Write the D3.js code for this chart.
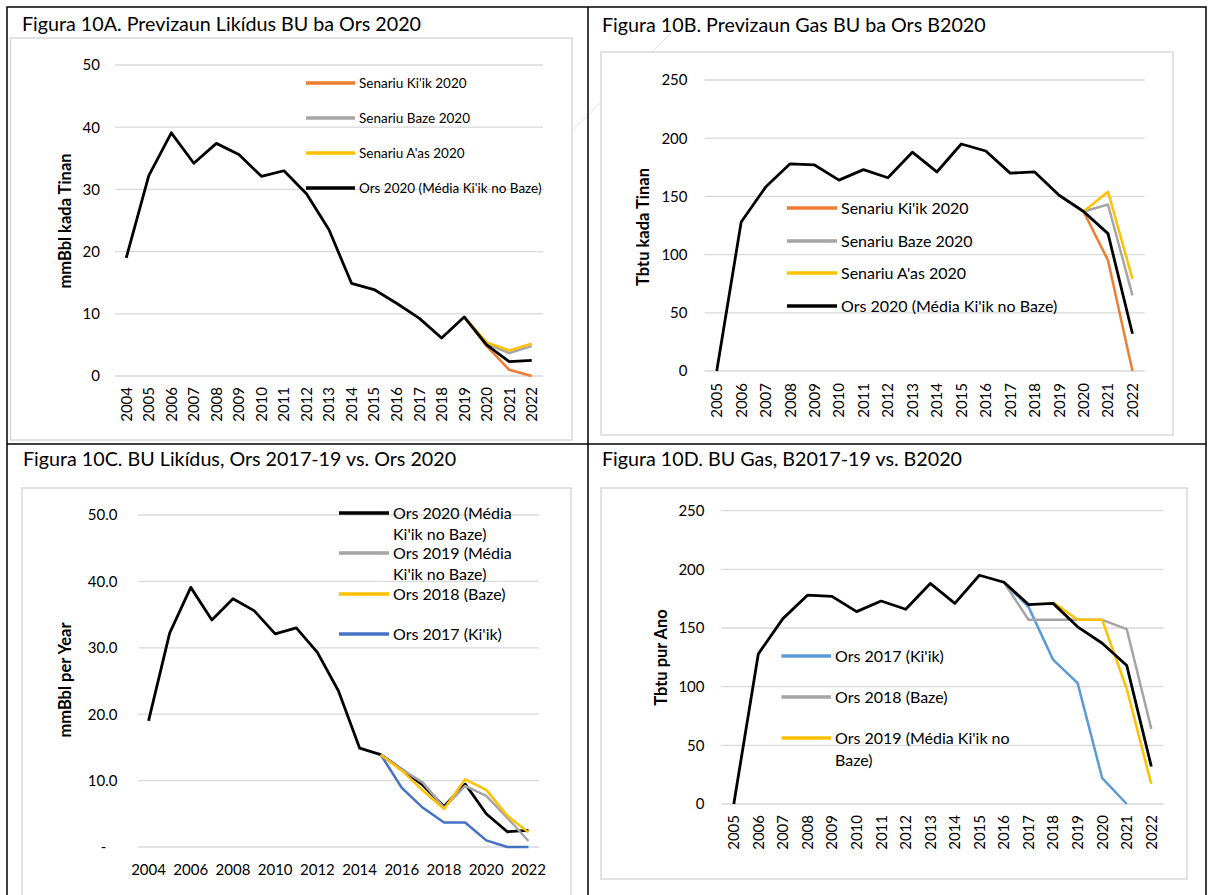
<!DOCTYPE html>
<html>
<head>
<meta charset="utf-8">
<script src="https://cdn.jsdelivr.net/npm/d3@7"></script>
<style>
  body { margin: 0; background: #fff; }
  svg { display: block; font-family: Lato, "Open Sans", sans-serif; }
</style>
</head>
<body>
<div id="chart"></div>
<script>
// categories
const yearsLiq = [2004, 2005, 2006, 2007, 2008, 2009, 2010, 2011, 2012, 2013, 2014, 2015, 2016, 2017, 2018, 2019, 2020, 2021, 2022]
const yearsGas = [2005, 2006, 2007, 2008, 2009, 2010, 2011, 2012, 2013, 2014, 2015, 2016, 2017, 2018, 2019, 2020, 2021, 2022]

// 10A - liquids, scenarios 2020 (mmBbl)
const liqOrs2020 = [19.0, 32.2, 39.1, 34.2, 37.4, 35.6, 32.1, 33.0, 29.3, 23.5, 14.9, 13.9, 11.7, 9.3, 6.1, 9.5, 5.0, 2.3, 2.5]
const liqScenYears = [2019, 2020, 2021, 2022]
const liqKiik2020 = [9.5, 4.8, 1.0, 0.0]
const liqBaze2020 = [9.5, 5.2, 3.7, 4.8]
const liqAas2020 = [9.5, 5.4, 4.1, 5.2]

// 10B - gas, scenarios 2020 (Tbtu)
const gasOrs2020 = [0, 128, 158, 178, 177, 164, 173, 166, 188, 171, 195, 189, 170, 171, 151, 137, 118, 32]
const gasScenYears = [2020, 2021, 2022]
const gasKiik2020 = [137, 95, 0]
const gasBaze2020 = [137, 143, 65]
const gasAas2020 = [137, 154, 79]

// 10C - liquids, budgets 2017-19 vs 2020
const liqOldYears = [2015, 2016, 2017, 2018, 2019, 2020, 2021, 2022]
const liqOrs2019 = [13.9, 11.7, 9.7, 5.9, 9.2, 7.7, 4.4, 0.9]
const liqOrs2018 = [13.9, 11.5, 8.5, 5.7, 10.2, 8.6, 4.7, 2.2]
const liqOrs2017 = [13.9, 8.9, 5.9, 3.7, 3.7, 1.0, 0.0, 0.0]

// 10D - gas, budgets 2017-19 vs 2020
const gasOrs2017Years = [2016, 2017, 2018, 2019, 2020, 2021]
const gasOrs2017 = [189, 168, 123, 103, 22, 0]
const gasOrs2018Years = [2016, 2017, 2018, 2019, 2020, 2021, 2022]
const gasOrs2018 = [189, 157, 157, 157, 157, 149, 64]
const gasOrs2019Years = [2018, 2019, 2020, 2021, 2022]
const gasOrs2019 = [172, 157, 157, 98, 17]

// tick labels
const ticksLiq = [0, 10, 20, 30, 40, 50]
const ticksGas = [0, 50, 100, 150, 200, 250]
const xLabelsC = [2004, 2006, 2008, 2010, 2012, 2014, 2016, 2018, 2020, 2022]

const C_ORANGE = '#ed7d31', C_GRAY = '#a5a5a5', C_YELLOW = '#ffc000', C_BLACK = '#000000'
const C_BLUE_DARK = '#4472c4', C_BLUE_LIGHT = '#5b9bd5'

const zip = (xs, ys) => xs.map((x, i) => ({ x: x, y: ys[i] }))

const svg = d3.select('#chart').append('svg')
    .attr('width', 1209)
    .attr('height', 895)

// faint diagonal from the source document
svg.append('line')
    .attr('x1', 548).attr('y1', 155).attr('x2', 672).attr('y2', 32)
    .style('stroke', '#e4e4e4').style('stroke-width', 1)

function drawPanel(p) {
    let g = svg.append('g')

    // inner chart box
    g.append('rect')
        .attr('x', p.box[0]).attr('y', p.box[1])
        .attr('width', p.box[2] - p.box[0]).attr('height', p.box[3] - p.box[1])
        .style('fill', '#fff').style('stroke', '#d9d9d9').style('stroke-width', 1.5)

    g.append('text')
        .attr('x', p.title[0]).attr('y', p.title[1])
        .style('font-size', '19.7px').style('fill', '#000')
        .text(p.titleText)

    let x = d3.scalePoint().domain(p.years).range(p.xRange).padding(0.5)
    let y = d3.scaleLinear().domain(p.yDomain).range(p.yRange)

    // gridlines
    g.selectAll('.grid').data(p.yTicks).enter().append('line')
        .attr('x1', p.xRange[0]).attr('x2', p.xRange[1])
        .attr('y1', d => y(d)).attr('y2', d => y(d))
        .style('stroke', '#d9d9d9').style('stroke-width', 1.3)

    // y labels
    g.selectAll('.ylab').data(p.yTicks).enter().append('text')
        .attr('x', p.yLabelX).attr('y', d => y(d))
        .attr('dy', '0.36em')
        .attr('text-anchor', 'end')
        .style('font-size', '15px')
        .text(p.yFormat)

    // x labels
    if (p.rotate) {
        g.selectAll('.xlab').data(p.years).enter().append('text')
            .attr('transform', d => `translate(${x(d)},${p.xLabelY}) rotate(-90)`)
            .attr('dy', '0.36em')
            .attr('text-anchor', 'end')
            .style('font-size', '15px')
            .text(d => d)
    } else {
        g.selectAll('.xlab').data(p.xLabels).enter().append('text')
            .attr('x', d => x(d)).attr('y', p.xLabelY)
            .attr('dy', '0.36em')
            .attr('text-anchor', 'middle')
            .style('font-size', '15px')
            .text(d => d)
    }

    // y axis title
    g.append('text')
        .attr('transform', `translate(${p.yTitle[0]},${p.yTitle[1]}) rotate(-90)`)
        .attr('dy', '0.36em')
        .attr('text-anchor', 'middle')
        .style('font-size', '16.5px').style('font-weight', 'bold')
        .text(p.yTitleText)

    let line = d3.line().x(d => x(d.x)).y(d => y(d.y))

    p.series.forEach(s => {
        g.append('path')
            .datum(zip(s.years, s.values))
            .attr('d', line)
            .style('fill', 'none')
            .style('stroke', s.color)
            .style('stroke-width', s.width || 2.5)
            .style('stroke-linejoin', 'round')
    })

    // legend
    p.legend.forEach(l => {
        g.append('line')
            .attr('x1', p.legendLine[0]).attr('x2', p.legendLine[1])
            .attr('y1', l.rows[0]).attr('y2', l.rows[0])
            .style('stroke', l.color).style('stroke-width', 3.5)
        l.text.forEach((t, i) => {
            g.append('text')
                .attr('x', p.legendLine[1] + 4).attr('y', l.rows[i])
                .attr('dy', '0.36em')
                .style('font-size', p.legendFont + 'px')
                .text(t)
        })
    })
}

// 10A
drawPanel({
    box: [10.5, 38, 572, 440],
    title: [22, 31], titleText: 'Figura 10A. Previzaun Likídus BU ba Ors 2020',
    years: yearsLiq, xRange: [115, 543],
    yDomain: [0, 50], yRange: [376, 65], yTicks: ticksLiq, yFormat: d => d, yLabelX: 100,
    rotate: true, xLabelY: 387,
    yTitle: [65, 221], yTitleText: 'mmBbl kada Tinan',
    series: [
        { years: liqScenYears, values: liqKiik2020, color: C_ORANGE },
        { years: liqScenYears, values: liqBaze2020, color: C_GRAY },
        { years: liqScenYears, values: liqAas2020, color: C_YELLOW },
        { years: yearsLiq, values: liqOrs2020, color: C_BLACK, width: 2.8 }
    ],
    legendLine: [306, 355], legendFont: 13.5,
    legend: [
        { color: C_ORANGE, rows: [83], text: ["Senariu Ki'ik 2020"] },
        { color: C_GRAY, rows: [118], text: ['Senariu Baze 2020'] },
        { color: C_YELLOW, rows: [153], text: ["Senariu A'as 2020"] },
        { color: C_BLACK, rows: [188], text: ["Ors 2020 (Média Ki'ik no Baze)"] }
    ]
})

// 10B
drawPanel({
    box: [601, 52, 1173, 435],
    title: [602, 32], titleText: 'Figura 10B. Previzaun Gas BU ba Ors B2020',
    years: yearsGas, xRange: [704.5, 1144.7],
    yDomain: [0, 250], yRange: [371, 80], yTicks: ticksGas, yFormat: d => d, yLabelX: 687.5,
    rotate: true, xLabelY: 383,
    yTitle: [643.5, 227], yTitleText: 'Tbtu kada Tinan',
    series: [
        { years: gasScenYears, values: gasKiik2020, color: C_ORANGE },
        { years: gasScenYears, values: gasBaze2020, color: C_GRAY },
        { years: gasScenYears, values: gasAas2020, color: C_YELLOW },
        { years: yearsGas, values: gasOrs2020, color: C_BLACK, width: 2.8 }
    ],
    legendLine: [787, 837], legendFont: 16,
    legend: [
        { color: C_ORANGE, rows: [208], text: ["Senariu Ki'ik 2020"] },
        { color: C_GRAY, rows: [241], text: ['Senariu Baze 2020'] },
        { color: C_YELLOW, rows: [273], text: ["Senariu A'as 2020"] },
        { color: C_BLACK, rows: [306], text: ["Ors 2020 (Média Ki'ik no Baze)"] }
    ]
})

// 10C
drawPanel({
    box: [22, 488, 571, 920],
    title: [23, 466], titleText: 'Figura 10C. BU Likídus, Ors 2017-19 vs. Ors 2020',
    years: yearsLiq, xRange: [138, 539],
    yDomain: [0, 50], yRange: [847, 515], yTicks: ticksLiq,
    yFormat: d => d === 0 ? '-\u2003' : d3.format('.1f')(d), yLabelX: 117.5,
    rotate: false, xLabels: xLabelsC, xLabelY: 870,
    yTitle: [65.5, 680], yTitleText: 'mmBbl per Year',
    series: [
        { years: yearsLiq, values: liqOrs2020, color: C_BLACK, width: 2.8 },
        { years: liqOldYears, values: liqOrs2017, color: C_BLUE_DARK },
        { years: liqOldYears, values: liqOrs2019, color: C_GRAY },
        { years: liqOldYears, values: liqOrs2018, color: C_YELLOW }
    ],
    legendLine: [339, 389], legendFont: 16,
    legend: [
        { color: C_BLACK, rows: [513, 534], text: ['Ors 2020 (Média', "Ki'ik no Baze)"] },
        { color: C_GRAY, rows: [553, 574], text: ['Ors 2019 (Média', "Ki'ik no Baze)"] },
        { color: C_YELLOW, rows: [594], text: ['Ors 2018 (Baze)'] },
        { color: C_BLUE_DARK, rows: [634], text: ["Ors 2017 (Ki'ik)"] }
    ]
})

// 10D
drawPanel({
    box: [601, 488, 1187, 879],
    title: [602, 466], titleText: 'Figura 10D. BU Gas, B2017-19 vs. B2020',
    years: yearsGas, xRange: [721.5, 1163.6],
    yDomain: [0, 250], yRange: [804, 510.7], yTicks: ticksGas, yFormat: d => d, yLabelX: 704.5,
    rotate: true, xLabelY: 815,
    yTitle: [661.5, 657.5], yTitleText: 'Tbtu pur Ano',
    series: [
        { years: gasOrs2017Years, values: gasOrs2017, color: C_BLUE_LIGHT },
        { years: gasOrs2018Years, values: gasOrs2018, color: C_GRAY },
        { years: gasOrs2019Years, values: gasOrs2019, color: C_YELLOW },
        { years: yearsGas, values: gasOrs2020, color: C_BLACK, width: 2.8 }
    ],
    legendLine: [781.5, 831], legendFont: 16,
    legend: [
        { color: C_BLUE_LIGHT, rows: [656], text: ["Ors 2017 (Ki'ik)"] },
        { color: C_GRAY, rows: [697], text: ['Ors 2018 (Baze)'] },
        { color: C_YELLOW, rows: [738, 760], text: ["Ors 2019 (Média Ki'ik no", 'Baze)'] }
    ]
})

// table borders
svg.append('rect')
    .attr('x', 7).attr('y', 7).attr('width', 1199).attr('height', 920)
    .style('fill', 'none').style('stroke', '#000').style('stroke-width', 1.5)
svg.append('line')
    .attr('x1', 588).attr('x2', 588).attr('y1', 7).attr('y2', 900)
    .style('stroke', '#000').style('stroke-width', 1.5)
svg.append('line')
    .attr('x1', 7).attr('x2', 1206).attr('y1', 444).attr('y2', 444)
    .style('stroke', '#000').style('stroke-width', 1.5)
</script>
</body>
</html>
